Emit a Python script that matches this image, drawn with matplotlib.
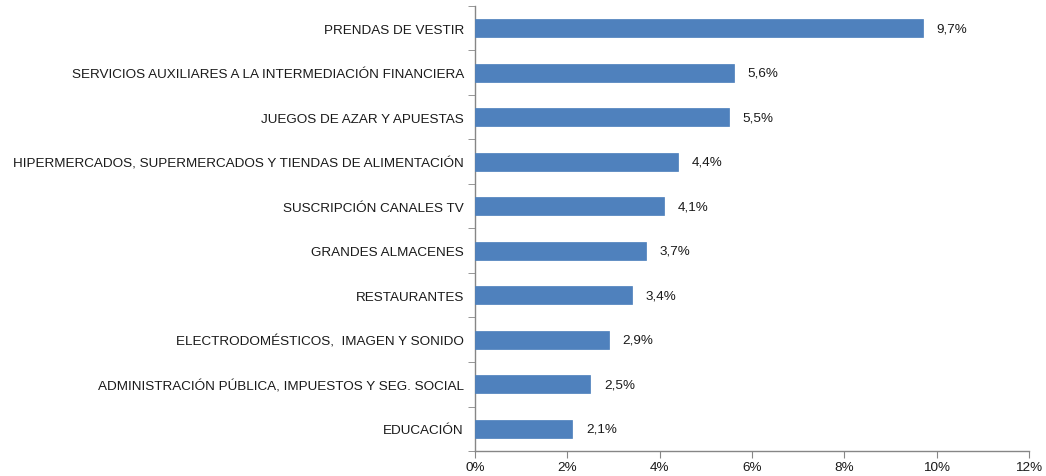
import matplotlib.pyplot as plt
import matplotlib.ticker as mticker
import numpy as np

plt.rcParams.update({
    "font.family": ["Liberation Sans", "DejaVu Sans"],
    "font.size": 9.7,
})

BLUE = "#4F81BD"
AXIS = "#868686"

# Data (top to bottom)
categories = [
    "PRENDAS DE VESTIR",
    "SERVICIOS AUXILIARES A LA INTERMEDIACIÓN FINANCIERA",
    "JUEGOS DE AZAR Y APUESTAS",
    "HIPERMERCADOS, SUPERMERCADOS Y TIENDAS DE ALIMENTACIÓN",
    "SUSCRIPCIÓN CANALES TV",
    "GRANDES ALMACENES",
    "RESTAURANTES",
    "ELECTRODOMÉSTICOS,  IMAGEN Y SONIDO",
    "ADMINISTRACIÓN PÚBLICA, IMPUESTOS Y SEG. SOCIAL",
    "EDUCACIÓN",
]
values = [9.7, 5.6, 5.5, 4.4, 4.1, 3.7, 3.4, 2.9, 2.5, 2.1]
x_ticks = [0, 2, 4, 6, 8, 10, 12]

fig = plt.figure(figsize=(10.46, 4.77), dpi=100)
ax = fig.add_axes([0.4541, 0.0524, 0.5296, 0.933])

y = np.arange(len(categories))[::-1]
ax.barh(y, values, height=0.4, color=BLUE, edgecolor="#4A7EBB", lw=0.5, zorder=3)
for yi, v in zip(y, values):
    ax.annotate(f"{v:.1f}%".replace(".", ","), (v, yi), textcoords="offset points",
                xytext=(10, 0), va="center", ha="left", fontsize=9.7, color="#1a1a1a")

ax.set_xlim(0, 12)
ax.set_ylim(-0.5, len(categories) - 0.5)
ax.set_xticks(x_ticks)
ax.xaxis.set_major_formatter(mticker.FuncFormatter(lambda v, _: f"{v:.0f}%"))
ax.set_yticks(y)
ax.set_yticklabels(categories)
ax.set_yticks(np.arange(-0.5, len(categories), 1), minor=True)

for s in ["top", "right"]:
    ax.spines[s].set_visible(False)
for s in ["left", "bottom"]:
    ax.spines[s].set_color(AXIS)
    ax.spines[s].set_linewidth(1)

ax.tick_params(axis="y", which="major", length=0, pad=8, labelcolor="#1a1a1a")
ax.tick_params(axis="y", which="minor", length=5, color=AXIS, direction="out")
ax.tick_params(axis="x", which="major", length=5, color=AXIS, direction="out",
               labelcolor="#1a1a1a", pad=2)

fig.savefig("out.png", dpi=100)
plt.close()
